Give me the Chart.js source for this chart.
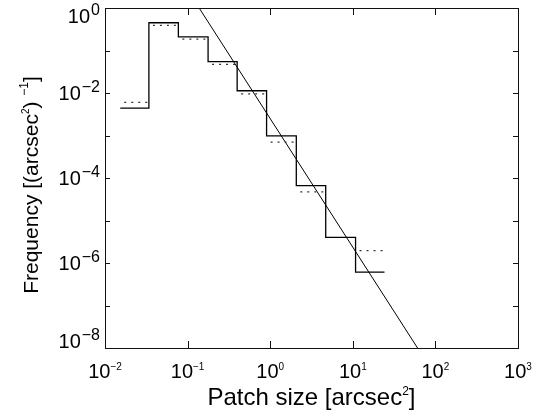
<!DOCTYPE html>
<html>
<head>
<meta charset="utf-8">
<script src="https://cdn.jsdelivr.net/npm/chart.js@4"></script>
<style>
  body { margin: 0; background: #fff; }
  canvas { display: block; }
</style>
</head>
<body>
<canvas id="sizeChart" width="552" height="419"></canvas>
<script>
// bin edges of the patch size histogram (arcsec^2)
const binEdges = [0.0153, 0.034, 0.0773, 0.177, 0.398, 0.904, 2.07, 4.70, 10.8, 24.2];
// solid histogram, one value per bin
const solidFreq = [4.4e-3, 0.45, 0.21, 0.0545, 0.0113, 9.8e-4, 6.6e-5, 4.0e-6, 6.1e-7];
// dotted histogram (no visible segment in bin 8)
const dottedFreq = [6.0e-3, 0.39, 0.186, 0.047, 9.5e-3, 7.0e-4, 4.7e-5, null, 1.95e-6];
// power law fit, end points
const fitX = [0.138, 60.8];
const fitY = [1, 1e-8];

// axes ticks
const xTickExp = [-2, -1, 0, 1, 2, 3];
const yTickExp = [0, -2, -4, -6, -8];
const yMinorExp = [-1, -3, -5, -7];

const FONT = "'Liberation Sans', Arial, Helvetica, sans-serif";

// build step data: value of a bin starts at its left edge
const solidData = solidFreq.map((v, i) => ({ x: binEdges[i], y: v }));
solidData.push({ x: binEdges[binEdges.length - 1], y: solidFreq[solidFreq.length - 1] });

// dotted: one flat piece per bin, split by nulls
const dottedData = [];
dottedFreq.forEach((v, i) => {
  if (v === null) return;
  dottedData.push({ x: binEdges[i], y: v });
  dottedData.push({ x: binEdges[i + 1], y: v });
  dottedData.push({ x: binEdges[i + 1], y: null });
});

const fitData = fitX.map((x, i) => ({ x: x, y: fitY[i] }));

// draw "10" with a raised exponent
function drawPow(ctx, exp, x, y, align, baseSize, expSize, rise, gap) {
  const base = '10';
  const ex = String(exp).replace('-', '\u2212');
  ctx.font = baseSize + 'px ' + FONT;
  const wb = ctx.measureText(base).width + gap;
  ctx.font = expSize + 'px ' + FONT;
  const we = ctx.measureText(ex).width;
  let left = x;
  if (align === 'center') left = x - (wb + we) / 2;
  else if (align === 'right') left = x - (wb + we);
  ctx.textAlign = 'left';
  ctx.textBaseline = 'alphabetic';
  ctx.font = baseSize + 'px ' + FONT;
  ctx.fillText(base, left, y);
  ctx.font = expSize + 'px ' + FONT;
  ctx.fillText(ex, left + wb, y - rise);
}

// draw a run of text pieces (some raised) centred on 0
function drawParts(ctx, parts) {
  let total = 0;
  parts.forEach(p => { ctx.font = p.s + 'px ' + FONT; p.w = ctx.measureText(p.t).width; total += p.w; });
  let cx = -total / 2;
  parts.forEach(p => {
    ctx.font = p.s + 'px ' + FONT;
    ctx.fillText(p.t, cx, -p.r);
    cx += p.w;
  });
}

// frame, inward ticks, tick labels and titles
const axesPlugin = {
  id: 'axesPlugin',
  afterDraw(chart) {
    const ctx = chart.ctx;
    const a = chart.chartArea;
    const xs = chart.scales.x;
    const ys = chart.scales.y;
    ctx.save();
    ctx.strokeStyle = '#111';
    ctx.lineWidth = 1;
    ctx.strokeRect(Math.round(a.left) + 0.5, Math.round(a.top) + 0.5,
      Math.round(a.right - a.left), Math.round(a.bottom - a.top));

    ctx.beginPath();
    xTickExp.forEach(e => {
      const px = Math.round(xs.getPixelForValue(Math.pow(10, e))) + 0.5;
      ctx.moveTo(px, a.bottom); ctx.lineTo(px, a.bottom - 7);
      ctx.moveTo(px, a.top); ctx.lineTo(px, a.top + 7);
    });
    yTickExp.concat(yMinorExp).forEach(e => {
      const py = Math.round(ys.getPixelForValue(Math.pow(10, e))) + 0.5;
      ctx.moveTo(a.left, py); ctx.lineTo(a.left + 5, py);
      ctx.moveTo(a.right, py); ctx.lineTo(a.right - 5, py);
    });
    ctx.stroke();

    ctx.fillStyle = '#000';
    xTickExp.forEach(e => {
      const px = xs.getPixelForValue(Math.pow(10, e));
      drawPow(ctx, e, px, a.bottom + 30, 'center', 20, 10, 8, 0);
    });
    yTickExp.forEach(e => {
      let py = ys.getPixelForValue(Math.pow(10, e));
      // end labels sit a little inside the axis ends
      py = Math.min(Math.max(py, a.top + 8), a.bottom - 7);
      drawPow(ctx, e, a.left - 5, py + 7, 'right', 20, 16, 8, 1);
    });

    // x title
    ctx.textBaseline = 'alphabetic';
    ctx.save();
    ctx.translate((a.left + a.right) / 2, 405);
    drawParts(ctx, [
      { t: 'Patch size [arcsec', s: 24, r: 0 },
      { t: '2', s: 12, r: 10 },
      { t: ']', s: 24, r: 0 }
    ]);
    ctx.restore();

    // y title, rotated
    ctx.translate(38, 185);
    ctx.rotate(-Math.PI / 2);
    drawParts(ctx, [
      { t: 'Frequency [(arcsec', s: 21, r: 0 },
      { t: '2', s: 10, r: 9 },
      { t: ') ', s: 21, r: 0 },
      { t: '\u22121', s: 12, r: 10 },
      { t: ']', s: 21, r: 0 }
    ]);
    ctx.restore();
  }
};

new Chart('sizeChart', {
  type: 'scatter',
  data: {
    datasets: [
      {
        data: solidData,
        showLine: true,
        stepped: true,
        borderColor: '#000',
        borderWidth: 1.3,
        pointRadius: 0
      },
      {
        data: dottedData,
        showLine: true,
        spanGaps: false,
        borderColor: '#333',
        borderWidth: 1.2,
        borderDash: [2, 5],
        borderDashOffset: 3,
        pointRadius: 0
      },
      {
        data: fitData,
        showLine: true,
        borderColor: '#000',
        borderWidth: 1,
        pointRadius: 0
      }
    ]
  },
  options: {
    responsive: false,
    animation: false,
    layout: { padding: { left: 105, right: 34, top: 8, bottom: 71 } },
    plugins: { legend: { display: false }, tooltip: { enabled: false } },
    scales: {
      x: { type: 'logarithmic', min: 0.01, max: 1000, display: false },
      y: { type: 'logarithmic', min: 1e-8, max: 1, display: false }
    }
  },
  plugins: [axesPlugin]
});
</script>
</body>
</html>
